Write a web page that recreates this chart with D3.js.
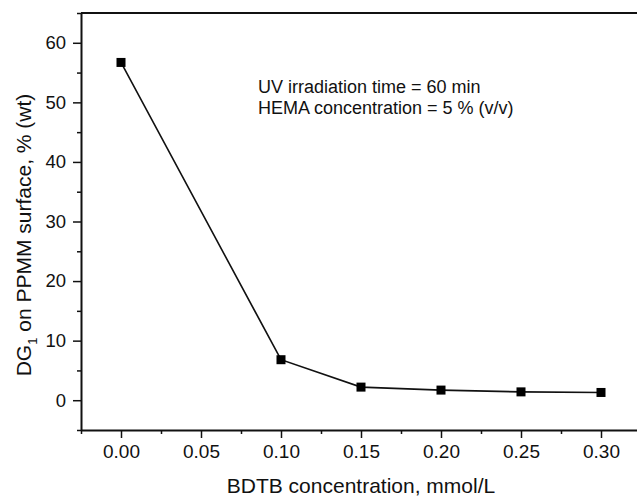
<!DOCTYPE html>
<html lang="en">
<head>
    <meta charset="UTF-8">
    <title>DG1 vs BDTB concentration</title>
    <script src="https://d3js.org/d3.v7.min.js"></script>
    <style>
        body {
            margin: 0;
            padding: 0;
            background: #fff;
        }
        svg {
            display: block;
            font-family: 'Liberation Sans', Arial, sans-serif;
        }
        text {
            fill: #111;
        }
    </style>
</head>
<body>
    <svg width="637" height="496"></svg>

    <script>
        // data
        const concentrations = [0.00, 0.10, 0.15, 0.20, 0.25, 0.30];
        const dgValues = [56.7, 6.8, 2.2, 1.7, 1.4, 1.3];
        const xTickValues = [0.00, 0.05, 0.10, 0.15, 0.20, 0.25, 0.30];
        const yTickValues = [0, 10, 20, 30, 40, 50, 60];
        const notes = ["UV irradiation time = 60 min", "HEMA concentration = 5 % (v/v)"];

        const svg = d3.select("svg");

        const xScale = d3.scaleLinear()
                         .domain([-0.025, 0.325])
                         .range([81, 641]);

        const yScale = d3.scaleLinear()
                         .domain([-5, 65])
                         .range([430, 13]);

        const xMinor = d3.range(-0.025, 0.33, 0.05);
        const yMinor = d3.range(-5, 66, 10);

        // minor ticks first
        svg.append("g")
           .attr("transform", "translate(0,430)")
           .call(d3.axisBottom(xScale).tickValues(xMinor).tickSize(4).tickFormat(""))
           .call(g => g.select(".domain").remove())
           .selectAll("line").attr("stroke", "#111").attr("stroke-width", 1.5);

        svg.append("g")
           .attr("transform", "translate(81,0)")
           .call(d3.axisLeft(yScale).tickValues(yMinor).tickSize(4).tickFormat(""))
           .call(g => g.select(".domain").remove())
           .selectAll("line").attr("stroke", "#111").attr("stroke-width", 1.5);

        // major axes
        const xAxis = svg.append("g")
           .attr("transform", "translate(0,430)")
           .call(d3.axisBottom(xScale)
                   .tickValues(xTickValues)
                   .tickSize(8)
                   .tickPadding(7)
                   .tickSizeOuter(0)
                   .tickFormat(d3.format(".2f")));

        const yAxis = svg.append("g")
           .attr("transform", "translate(81,0)")
           .call(d3.axisLeft(yScale)
                   .tickValues(yTickValues)
                   .tickSize(8)
                   .tickPadding(7)
                   .tickSizeOuter(0));

        [xAxis, yAxis].forEach(ax => {
            ax.select(".domain").attr("stroke", "#111").attr("stroke-width", 2);
            ax.selectAll(".tick line").attr("stroke", "#111").attr("stroke-width", 1.5);
            ax.selectAll(".tick text")
              .attr("font-family", "'Liberation Sans', Arial, sans-serif")
              .attr("fill", "#111");
        });
        xAxis.selectAll(".tick text").attr("font-size", 19);
        yAxis.selectAll(".tick text").attr("font-size", 18.5);

        // top frame line
        svg.append("line")
           .attr("x1", xScale(-0.025))
           .attr("x2", xScale(0.325))
           .attr("y1", yScale(65))
           .attr("y2", yScale(65))
           .attr("stroke", "#111")
           .attr("stroke-width", 2);

        // data line + markers
        const points = concentrations.map((c, i) => ({ x: c, y: dgValues[i] }));

        const line = d3.line()
                       .x(d => xScale(d.x))
                       .y(d => yScale(d.y));

        svg.append("path")
           .datum(points)
           .attr("d", line)
           .attr("fill", "none")
           .attr("stroke", "#111")
           .attr("stroke-width", 1.6);

        svg.selectAll(".marker")
           .data(points)
           .enter()
           .append("rect")
           .attr("class", "marker")
           .attr("x", d => xScale(d.x) - 4.5)
           .attr("y", d => yScale(d.y) - 4.5)
           .attr("width", 9)
           .attr("height", 9)
           .attr("fill", "#000");

        // annotation
        svg.selectAll(".note")
           .data(notes)
           .enter()
           .append("text")
           .attr("class", "note")
           .attr("x", 258)
           .attr("y", (d, i) => 93 + i * 21)
           .attr("font-size", 18)
           .text(d => d);

        // axis titles
        svg.append("text")
           .attr("x", 361)
           .attr("y", 493)
           .attr("text-anchor", "middle")
           .attr("font-size", 21)
           .text("BDTB concentration, mmol/L");

        const yTitle = svg.append("text")
           .attr("transform", "translate(31,235) rotate(-90)")
           .attr("text-anchor", "middle")
           .attr("font-size", 21);
        yTitle.append("tspan").text("DG");
        yTitle.append("tspan").attr("font-size", 13).attr("dy", 6).text("1");
        yTitle.append("tspan").attr("dy", -6).text(" on PPMM surface, % (wt)");
    </script>
</body>
</html>
